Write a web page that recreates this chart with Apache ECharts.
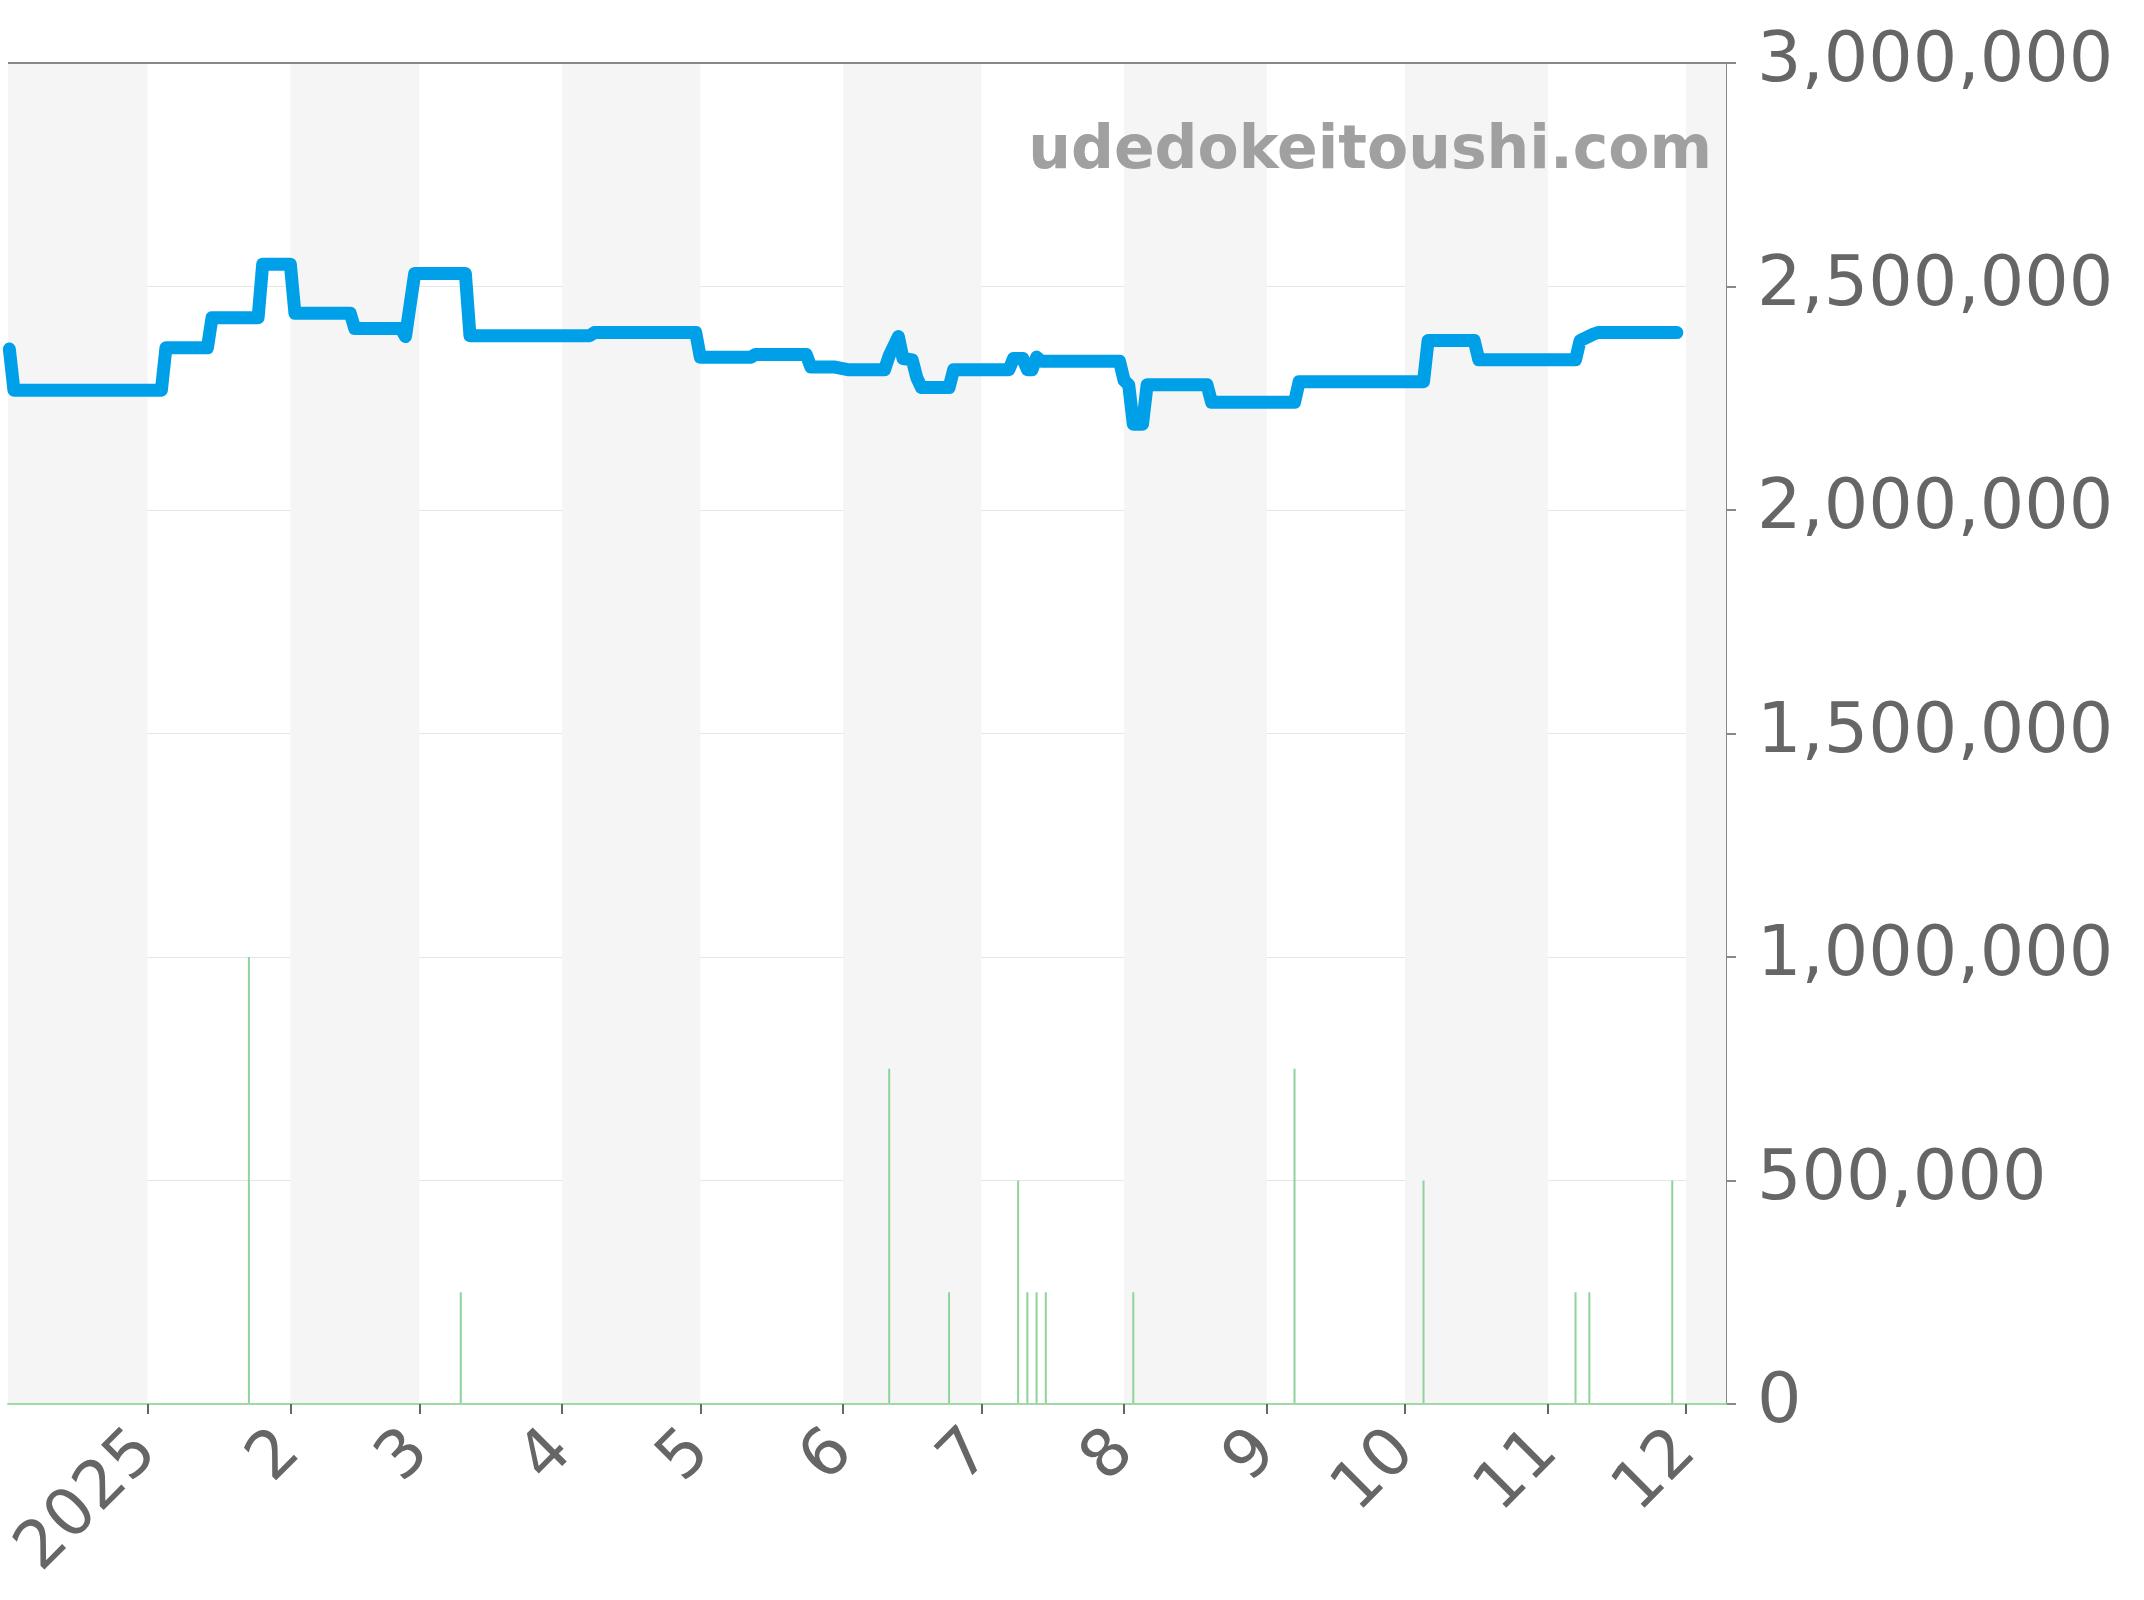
<!DOCTYPE html>
<html><head><meta charset="utf-8">
<script src="https://cdn.jsdelivr.net/npm/echarts@6/dist/echarts.min.js"></script>
<style>html,body{margin:0;padding:0;background:#fff}#c{width:2144px;height:1600px}</style>
</head><body><div id="c"></div>
<script>
const priceDates = ['2024-12-02','2024-12-03','2025-01-04','2025-01-05','2025-01-14','2025-01-15','2025-01-25','2025-01-26','2025-02-01','2025-02-02','2025-02-14','2025-02-15','2025-02-25','2025-02-26','2025-02-28','2025-03-11','2025-03-12','2025-04-07','2025-04-08','2025-04-30','2025-05-01','2025-05-12','2025-05-13','2025-05-24','2025-05-25','2025-05-30','2025-06-02','2025-06-10','2025-06-11','2025-06-13','2025-06-14','2025-06-16','2025-06-17','2025-06-18','2025-06-24','2025-06-25','2025-07-07','2025-07-08','2025-07-10','2025-07-11','2025-07-12','2025-07-13','2025-07-14','2025-07-31','2025-08-01','2025-08-02','2025-08-03','2025-08-05','2025-08-06','2025-08-19','2025-08-20','2025-09-07','2025-09-08','2025-10-05','2025-10-06','2025-10-16','2025-10-17','2025-11-07','2025-11-08','2025-11-11','2025-11-12','2025-11-29'];
const priceValues = [2360000,2268000,2268000,2363000,2363000,2430000,2430000,2550000,2550000,2440000,2440000,2406000,2406000,2388000,2529000,2529000,2390000,2390000,2397000,2397000,2342000,2342000,2348000,2348000,2320000,2320000,2314000,2314000,2345000,2388000,2339000,2336000,2296000,2274000,2274000,2314000,2314000,2339000,2339000,2314000,2314000,2342000,2333000,2333000,2290000,2280000,2192000,2192000,2280000,2280000,2241000,2241000,2287000,2287000,2379000,2379000,2336000,2336000,2379000,2394000,2397000,2397000];
const volDates = ['2025-01-23','2025-03-10','2025-06-11','2025-06-24','2025-07-09','2025-07-11','2025-07-13','2025-07-15','2025-08-03','2025-09-07','2025-10-05','2025-11-07','2025-11-10','2025-11-28'];
const volValues = [1000000,250000,750000,250000,500000,250000,250000,250000,250000,750000,500000,250000,250000,500000];
const monthTicks = ['2025-01-01','2025-02-01','2025-03-01','2025-04-01','2025-05-01','2025-06-01','2025-07-01','2025-08-01','2025-09-01','2025-10-01','2025-11-01','2025-12-01'];
const monthLabels = ['2025','2','3','4','5','6','7','8','9','10','11','12'];
const shadedMonths = [['2024-12-01T17:00:00Z','2025-01-01'],['2025-02-01','2025-03-01'],['2025-04-01','2025-05-01'],['2025-06-01','2025-07-01'],['2025-08-01','2025-09-01'],['2025-10-01','2025-11-01'],['2025-12-01','2025-12-09T16:00:00Z']];

const ts = s => new Date(s).getTime();
const tickTs = monthTicks.map(ts);
const chart = echarts.init(document.getElementById('c'));
chart.setOption({
  animation:false,
  grid:{left:8,right:418,top:63,bottom:196},
  xAxis:{type:'value',min:ts('2024-12-01T17:00:00Z'),max:ts('2025-12-09T16:00:00Z'),z:5,
    axisLine:{show:true,onZero:false,lineStyle:{color:'#9fd9a8',width:2}},
    axisTick:{show:true,customValues:tickTs,length:10,lineStyle:{color:'#666',width:2}},
    axisLabel:{customValues:tickTs,rotate:45,fontSize:66,color:'#666',margin:38,fontFamily:'DejaVu Sans',
      formatter:v=>{const i=tickTs.indexOf(v);return i>=0?monthLabels[i]:'';}},
    splitLine:{show:false}},
  yAxis:{type:'value',position:'right',min:0,max:3000000,interval:500000,
    axisLine:{show:true,lineStyle:{color:'#888',width:2}},
    axisTick:{show:true,length:10,lineStyle:{color:'#888',width:2}},
    axisLabel:{fontSize:70,color:'#666',margin:31,padding:[10,0,0,0],fontFamily:'DejaVu Sans',formatter:v=>v.toLocaleString('en-US')},
    splitLine:{show:true,lineStyle:{color:'#e6e6e6',width:1}}},
  graphic:[
    {type:'line',shape:{x1:8,y1:63,x2:1726,y2:63},style:{stroke:'#888',lineWidth:2},z:10},
    {type:'text',right:432,top:122,style:{text:'udedokeitoushi.com',fontSize:60,fontWeight:'bold',fill:'#a0a0a0',fontFamily:'DejaVu Sans'},z:10}
  ],
  series:[
    {type:'bar',barWidth:2,data:volDates.map((d,i)=>[ts(d),volValues[i]]),itemStyle:{color:'#8ed39c'},z:1,
      markArea:{silent:true,itemStyle:{color:'#f5f5f5'},data:shadedMonths.map(m=>[{xAxis:ts(m[0])},{xAxis:ts(m[1])}])}},
    {type:'line',data:priceDates.map((d,i)=>[ts(d),priceValues[i]]),showSymbol:false,lineStyle:{color:'#00a0e9',width:13,join:'round',cap:'round'},z:3}
  ]
});
</script></body></html>
